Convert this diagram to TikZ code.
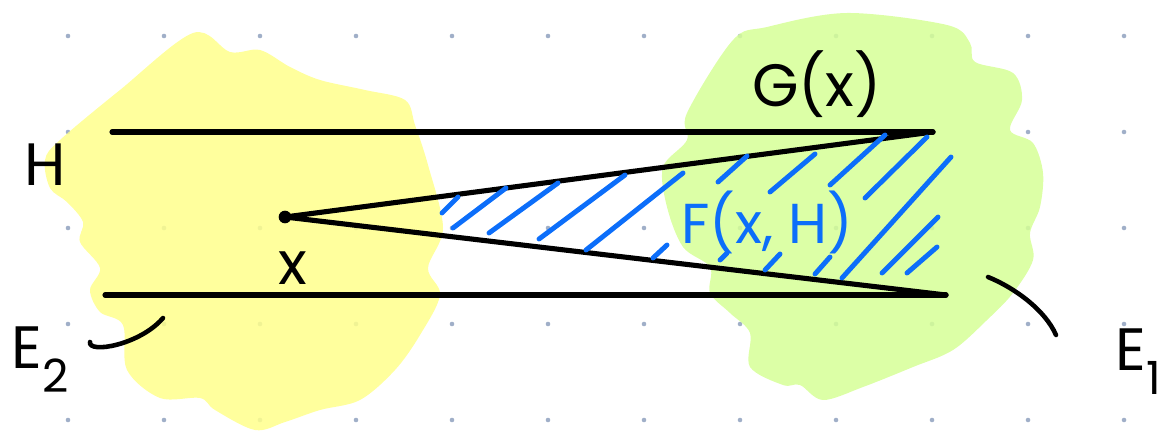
\documentclass[tikz,border=0pt]{standalone}
\usepackage{fontspec}
\setmainfont{Poppins}
\usetikzlibrary{positioning}
\definecolor{ink}{RGB}{0,0,0}
\definecolor{hatchblue}{RGB}{12,110,250}
\definecolor{dotgrey}{RGB}{160,175,200}
\definecolor{blobyellow}{RGB}{255,255,140}
\definecolor{blobgreen}{RGB}{214,255,150}
\tikzset{
    sketch/.style={
        draw=ink,
        line width=1.45pt,
        line cap=round,
        line join=round
    },
    hatch/.style={
        draw=hatchblue,
        line width=1.4pt,
        line cap=round
    },
    leader/.style={
        draw=ink,
        line width=1.3pt,
        line cap=round
    },
    handlabel/.style={
        font=\fontsize{17}{20}\selectfont,
        text=ink,
        inner sep=0pt
    },
    bluelabel/.style={
        handlabel,
        font=\fontsize{16}{19}\selectfont,
        text=hatchblue
    },
    griddot/.style={
        fill=dotgrey
    },
    blob/.style={
        fill opacity=0.85
    }
}

\begin{document}
\begin{tikzpicture}[x=0.01cm, y=-0.01cm]
\useasboundingbox (0,0) rectangle (1165,431);

\foreach \i in {0,...,11} {
    \foreach \j in {0,...,4} {
        \fill[griddot] (68 + 96*\i, 36 + 96*\j) circle[radius=0.65pt];
    }
}

\fill[blobyellow, blob] plot[smooth cycle, tension=0.55] coordinates {
    (193,33) (230,52) (260,50) (290,67) (320,80) (365,90) (405,100)
    (415,125) (428,165) (443,228) (428,268) (440,295) (420,335)
    (395,370) (360,400) (320,410) (285,422) (255,430) (215,410)
    (200,398) (160,398) (127,370) (123,325) (100,312) (90,290)
    (100,268) (80,242) (83,222) (67,202) (50,188) (45,160) (60,140)
    (120,90)
};
\fill[blobgreen, blob] plot[smooth cycle, tension=0.55] coordinates {
    (767,27) (847,13) (947,25) (970,43) (975,62) (1013,73) (1022,100)
    (1010,130) (1033,143) (1043,173) (1040,207) (1030,233) (1033,260)
    (1013,293) (987,320) (953,350) (913,367) (863,387) (823,400)
    (800,385) (783,385) (750,367) (750,333) (730,313) (710,293)
    (710,267) (683,247) (667,207) (663,167) (687,140) (687,113)
    (733,40)
};

\coordinate (Hleft) at (112,132);
\coordinate (Hright) at (933,132);
\coordinate (Bleft) at (105,295);
\coordinate (Bright) at (946,295);
\coordinate (x) at (285,217);

\draw[sketch] (Hleft) -- (Hright);
\draw[sketch] (Bleft) -- (Bright);
\draw[sketch] (Hright) -- (x) -- (Bright);
\fill[ink] (x) circle[radius=1.8pt];

\foreach \ax/\ay/\bx/\by in {
    442/213/458/197, 453/228/506/188, 489/233/558/183,
    539/239/625/175, 586/250/683/173, 653/258/667/245,
    718/182/747/156, 720/260/727/253, 770/192/815/154,
    765/270/780/254, 830/185/885/135, 865/198/927/137,
    815/274/830/257, 842/278/951/157, 882/273/938/217,
    907/273/937/247
} {
    \draw[hatch] (\ax,\ay) -- (\bx,\by);
}

\node[handlabel] (Hlab) at (45,165) {H};
\node[handlabel] (Glab) at (817,84) {G(x)};
\node[handlabel] (xlab) at (293,268) {x};
\node[bluelabel] (Flab) at (767,222) {F(x, H)};
\node[handlabel] (E2lab) at (40,360) {E\raisebox{-0.4em}{\fontsize{13}{13}\selectfont 2}};
\node[handlabel] (E1lab) at (1138,362) {E\raisebox{-0.4em}{\fontsize{13}{13}\selectfont 1}};

\coordinate (E2foot) at (90,342);
\coordinate (E2tip) at (163,318);
\coordinate (E1foot) at (988,277);
\coordinate (E1tip) at (1056,335);
\draw[leader] (E2foot) .. controls (88,354) and (140,345) .. (E2tip);
\draw[leader] (E1foot) .. controls (1015,288) and (1045,310) .. (E1tip);

\end{tikzpicture}
\end{document}
